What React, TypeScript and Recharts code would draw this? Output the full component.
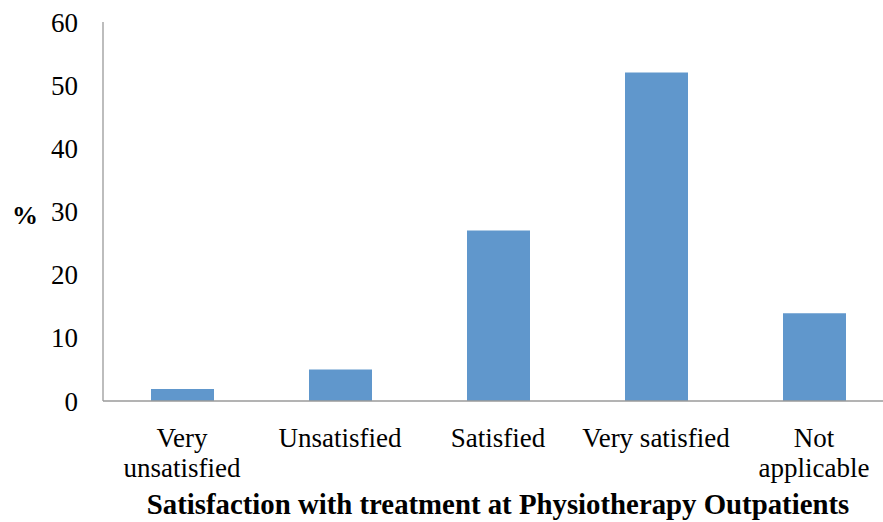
import React from "react";
import { BarChart, Bar, XAxis, YAxis } from "recharts";

const categories = ["Very unsatisfied", "Unsatisfied", "Satisfied", "Very satisfied", "Not applicable"];
const tickLines: string[][] = [["Very", "unsatisfied"], ["Unsatisfied"], ["Satisfied"], ["Very satisfied"], ["Not", "applicable"]];
const percentValues = [1.9, 5, 27, 52, 13.9];
const yTicks = [0, 10, 20, 30, 40, 50, 60];
const xTitle = "Satisfaction with treatment at Physiotherapy Outpatients";
const yTitle = "%";

const data = categories.map((c, i) => ({ name: c, value: percentValues[i] }));

const FONT = "'Liberation Serif', 'Times New Roman', serif";

const XTick = (props: any) => {
  const { x, y, payload } = props;
  const idx = categories.indexOf(payload.value);
  const lines = idx >= 0 ? tickLines[idx] : [String(payload.value)];
  return (
    <text x={x} y={y} textAnchor="middle" fontFamily={FONT} fontSize={27} fill="#000">
      {lines.map((l, i) => (
        <tspan key={i} x={x} dy={i === 0 ? 19 : 30}>
          {l}
        </tspan>
      ))}
    </text>
  );
};

export default function App() {
  return (
    <div style={{ position: "absolute", left: 0, top: 0, width: 883, height: 522, overflow: "hidden", background: "#fff" }}>
      <BarChart
        width={900}
        height={522}
        data={data}
        margin={{ top: 22, right: 7, bottom: 0, left: 0 }}
        barCategoryGap="30%"
      >
        <XAxis
          dataKey="name"
          height={121}
          tickLine={false}
          tickSize={0}
          tickMargin={27}
          axisLine={{ stroke: "#9a9a9a", strokeWidth: 1.3 }}
          tick={<XTick />}
          interval={0}
          label={{
            content: (p: any) => {
              const vb = p.viewBox;
              return (
                <text
                  x={vb.x + vb.width / 2}
                  y={vb.y + 113}
                  textAnchor="middle"
                  fontFamily={FONT}
                  fontWeight="bold"
                  fontSize={28.8}
                  fill="#000"
                >
                  {xTitle}
                </text>
              );
            },
          }}
        />
        <YAxis
          width={103}
          domain={[0, 60]}
          ticks={yTicks}
          tickLine={false}
          tickSize={0}
          tickMargin={25}
          axisLine={{ stroke: "#9a9a9a", strokeWidth: 1.3 }}
          tick={{ fontFamily: FONT, fontSize: 27, fill: "#000" }}
          label={{
            content: () => (
              <text x={12} y={224} fontFamily={FONT} fontWeight="bold" fontSize={26} fill="#000">
                {yTitle}
              </text>
            ),
          }}
        />
        <Bar dataKey="value" fill="#6097cc" barSize={63} isAnimationActive={false} />
      </BarChart>
    </div>
  );
}
